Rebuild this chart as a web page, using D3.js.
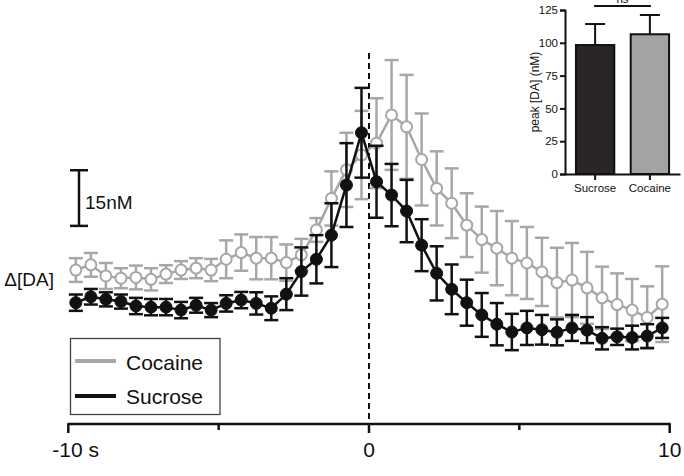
<!DOCTYPE html>
<html>
<head>
<meta charset="utf-8">
<script src="https://cdn.jsdelivr.net/npm/d3@7"></script>
<style>
  html, body { margin: 0; padding: 0; background: #fff; }
  svg { display: block; font-family: "Liberation Sans", Arial, sans-serif; }
</style>
</head>
<body>
<div id="chart"></div>
<script>
// ------- Data (main trace: mean ± SEM, ΔDA in nM, sampled every 0.5 s)
const times = [-9.75, -9.25, -8.75, -8.25, -7.75, -7.25, -6.75, -6.25, -5.75, -5.25,
               -4.75, -4.25, -3.75, -3.25, -2.75, -2.25, -1.75, -1.25, -0.75, -0.25,
                0.25,  0.75,  1.25,  1.75,  2.25,  2.75,  3.25,  3.75,  4.25,  4.75,
                5.25,  5.75,  6.25,  6.75,  7.25,  7.75,  8.25,  8.75,  9.25,  9.75];

const sucrose = [32.7, 34.3, 33.6, 33.0, 31.8, 31.5, 31.5, 30.7, 32.0, 30.7,
                 32.5, 33.4, 32.5, 31.2, 35.0, 41.1, 44.4, 50.9, 64.4, 78.5,
                 65.3, 61.7, 57.4, 48.2, 40.6, 36.3, 32.7, 29.4, 26.9, 24.8,
                 25.9, 25.4, 24.7, 25.9, 25.3, 23.1, 23.5, 23.3, 23.7, 25.9];
const sucroseErr = [2.2, 2.1, 1.9, 1.9, 2.2, 2.2, 2.2, 2.2, 2.0, 1.9,
                    2.2, 2.2, 3.0, 3.2, 4.3, 6.5, 6.5, 8.6, 11.3, 12.1,
                    9.7, 8.4, 8.4, 7.0, 7.3, 6.7, 6.2, 5.9, 5.7, 4.9,
                    4.6, 4.0, 3.5, 3.5, 3.5, 3.0, 2.2, 3.2, 3.2, 2.7];

const cocaine = [41.5, 42.9, 39.9, 39.3, 39.5, 39.0, 40.4, 41.5, 42.0, 41.5,
                 44.4, 46.2, 44.7, 44.7, 43.5, 45.6, 52.3, 60.8, 68.5, 72.5,
                 75.7, 83.3, 80.1, 71.3, 63.5, 59.5, 53.6, 49.7, 47.4, 44.7,
                 43.4, 41.0, 38.1, 38.8, 36.7, 34.0, 32.2, 30.7, 28.7, 32.3];
const cocaineErr = [3.2, 3.2, 3.5, 2.7, 3.2, 3.0, 2.4, 2.4, 2.7, 3.0,
                    5.1, 4.9, 5.7, 5.7, 4.9, 4.3, 3.2, 7.3, 10.0, 11.9,
                    12.1, 14.8, 14.0, 12.4, 10.0, 9.4, 8.6, 8.9, 10.0, 10.0,
                    9.7, 9.2, 9.4, 10.0, 9.7, 8.4, 8.4, 8.4, 8.4, 10.2];

const xTicks = [-10, -5, 0, 5, 10];
const xTickLabels = ['-10 s', '', '0', '', '10'];

// ------- Data (inset: peak [DA])
const peakGroups = ['Sucrose', 'Cocaine'];
const peakValues = [98.3, 106.5];
const peakErr = [16.0, 14.7];
const peakTicks = [0, 25, 50, 75, 100, 125];

// ------- Colours
const BLACK = '#111';
const GREY = '#a7a7a7';

const W = 684, H = 476;
const svg = d3.select('#chart').append('svg')
  .attr('width', W).attr('height', H)
  .attr('viewBox', `0 0 ${W} ${H}`);

// ------- Scales (main)
const x = d3.scaleLinear().domain([-10, 10]).range([68.3, 669.7]);
const axisY = 424;
const y = d3.scaleLinear().domain([0, 100]).range([axisY, axisY - 371]);

// ------- x axis
const xAxis = svg.append('g');
xAxis.append('line')
  .attr('x1', x(-10) - 1).attr('x2', x(10) + 1)
  .attr('y1', axisY).attr('y2', axisY)
  .attr('stroke', BLACK).attr('stroke-width', 2.5);
xAxis.selectAll('.tick')
  .data(xTicks)
  .join('line')
  .attr('x1', d => x(d)).attr('x2', d => x(d))
  .attr('y1', axisY).attr('y2', d => axisY + (d % 10 === 0 ? 9 : 6))
  .attr('stroke', BLACK).attr('stroke-width', 2.5);
xAxis.selectAll('.lbl')
  .data(xTicks.map((t, i) => ({ t, label: xTickLabels[i] })).filter(d => d.label))
  .join('text')
  .attr('x', d => d.t === -10 ? x(d.t) - 16 : x(d.t))
  .attr('y', 456.5)
  .attr('text-anchor', d => d.t === -10 ? 'start' : 'middle')
  .attr('font-size', 21)
  .attr('fill', BLACK)
  .text(d => d.label);

// ------- stimulus line at t = 0
svg.append('line')
  .attr('x1', x(0)).attr('x2', x(0))
  .attr('y1', 53).attr('y2', axisY)
  .attr('stroke', BLACK).attr('stroke-width', 2)
  .attr('stroke-dasharray', '6,4');

// ------- traces
function drawSeries(vals, errs, color, filled) {
  const pts = times.map((t, i) => ({ t, v: vals[i], e: errs[i] }));
  const g = svg.append('g');
  const cap = 7;

  const eb = g.selectAll('.eb').data(pts).join('g');
  eb.append('line')
    .attr('x1', d => x(d.t)).attr('x2', d => x(d.t))
    .attr('y1', d => y(d.v - d.e)).attr('y2', d => y(d.v + d.e))
    .attr('stroke', color).attr('stroke-width', 2.5);
  eb.append('line')
    .attr('x1', d => x(d.t) - cap).attr('x2', d => x(d.t) + cap)
    .attr('y1', d => y(d.v + d.e)).attr('y2', d => y(d.v + d.e))
    .attr('stroke', color).attr('stroke-width', 2.5);
  eb.append('line')
    .attr('x1', d => x(d.t) - cap).attr('x2', d => x(d.t) + cap)
    .attr('y1', d => y(d.v - d.e)).attr('y2', d => y(d.v - d.e))
    .attr('stroke', color).attr('stroke-width', 2.5);

  g.append('path')
    .datum(pts)
    .attr('d', d3.line().x(d => x(d.t)).y(d => y(d.v)))
    .attr('fill', 'none')
    .attr('stroke', color).attr('stroke-width', 2.5);

  g.selectAll('circle').data(pts).join('circle')
    .attr('cx', d => x(d.t)).attr('cy', d => y(d.v))
    .attr('r', filled ? 6 : 5.5)
    .attr('fill', filled ? color : '#fff')
    .attr('stroke', color).attr('stroke-width', filled ? 1 : 2);
}

drawSeries(cocaine, cocaineErr, GREY, false);
drawSeries(sucrose, sucroseErr, BLACK, true);

// ------- scale bar (15 nM)
const sbBase = 53.4, sbLen = 15, sbX = 79;
const sb = svg.append('g').attr('stroke', BLACK).attr('stroke-width', 2.5);
sb.append('line').attr('x1', sbX).attr('x2', sbX).attr('y1', y(sbBase)).attr('y2', y(sbBase + sbLen));
sb.append('line').attr('x1', sbX - 9).attr('x2', sbX + 9).attr('y1', y(sbBase)).attr('y2', y(sbBase));
sb.append('line').attr('x1', sbX - 9).attr('x2', sbX + 9).attr('y1', y(sbBase + sbLen)).attr('y2', y(sbBase + sbLen));
svg.append('text')
  .attr('x', 85).attr('y', 208.5)
  .attr('font-size', 19).attr('fill', BLACK)
  .text('15nM');

svg.append('text')
  .attr('x', 54).attr('y', 286)
  .attr('text-anchor', 'end')
  .attr('font-size', 19).attr('fill', BLACK)
  .text('Δ[DA]');

// ------- legend
const lg = svg.append('g');
lg.append('rect')
  .attr('x', 70.5).attr('y', 338.5)
  .attr('width', 149.5).attr('height', 76)
  .attr('fill', '#fff').attr('stroke', '#444').attr('stroke-width', 1.3);
[['Cocaine', GREY, 361, 370], ['Sucrose', BLACK, 396, 403.5]].forEach(([name, c, ly, ty]) => {
  lg.append('line')
    .attr('x1', 75).attr('x2', 116).attr('y1', ly).attr('y2', ly)
    .attr('stroke', c).attr('stroke-width', 4);
  lg.append('text')
    .attr('x', 126).attr('y', ty)
    .attr('font-size', 21).attr('fill', BLACK)
    .text(name);
});

// ------- inset: peak [DA]
const iy = d3.scaleLinear().domain([0, 125]).range([174, 10]);
const ix = d3.scaleBand().domain(peakGroups).range([565, 680]).paddingInner(0.3).paddingOuter(0.2);
const inset = svg.append('g');

inset.selectAll('.bar').data(peakGroups).join('rect')
  .attr('x', d => ix(d)).attr('width', ix.bandwidth())
  .attr('y', (d, i) => iy(peakValues[i]))
  .attr('height', (d, i) => iy(0) - iy(peakValues[i]))
  .attr('fill', (d, i) => i === 0 ? '#2a2627' : '#a3a3a3')
  .attr('stroke', BLACK).attr('stroke-width', 2);

inset.selectAll('.err').data(peakGroups).join('g')
  .each(function (d, i) {
    const cx = ix(d) + ix.bandwidth() / 2;
    const g = d3.select(this).attr('stroke', BLACK).attr('stroke-width', 2);
    g.append('line').attr('x1', cx).attr('x2', cx)
      .attr('y1', iy(peakValues[i])).attr('y2', iy(peakValues[i] + peakErr[i]));
    g.append('line').attr('x1', cx - 10).attr('x2', cx + 10)
      .attr('y1', iy(peakValues[i] + peakErr[i])).attr('y2', iy(peakValues[i] + peakErr[i]));
  });

inset.append('g')
  .attr('transform', 'translate(565,0)')
  .call(d3.axisLeft(iy).tickValues(peakTicks).tickSize(5).tickPadding(2))
  .call(g => g.select('.domain').attr('stroke', BLACK).attr('stroke-width', 2))
  .call(g => g.selectAll('.tick line').attr('stroke', BLACK).attr('stroke-width', 2))
  .call(g => g.selectAll('.tick text')
    .attr('font-family', '"Liberation Sans", Arial, sans-serif')
    .attr('font-size', 11.5).attr('fill', BLACK));

inset.append('g')
  .attr('transform', 'translate(0,174)')
  .call(d3.axisBottom(ix).tickSize(6).tickPadding(4).tickSizeOuter(0))
  .call(g => g.select('.domain').attr('stroke', BLACK).attr('stroke-width', 2))
  .call(g => g.selectAll('.tick line').attr('stroke', BLACK).attr('stroke-width', 2))
  .call(g => g.selectAll('.tick text')
    .attr('font-family', '"Liberation Sans", Arial, sans-serif')
    .attr('font-size', 11.5).attr('fill', BLACK));

inset.append('text')
  .attr('transform', `translate(539,${iy(62.5)}) rotate(-90)`)
  .attr('text-anchor', 'middle')
  .attr('font-size', 12).attr('fill', BLACK)
  .text('peak [DA] (nM)');

// significance bar
const c0 = ix('Sucrose') + ix.bandwidth() / 2, c1 = ix('Cocaine') + ix.bandwidth() / 2;
inset.append('line')
  .attr('x1', c0 - 1).attr('x2', c1 + 1).attr('y1', 6).attr('y2', 6)
  .attr('stroke', BLACK).attr('stroke-width', 2);
inset.append('text')
  .attr('x', (c0 + c1) / 2).attr('y', 2.5)
  .attr('text-anchor', 'middle')
  .attr('font-size', 11.5).attr('fill', BLACK)
  .text('ns');
</script>
</body>
</html>
